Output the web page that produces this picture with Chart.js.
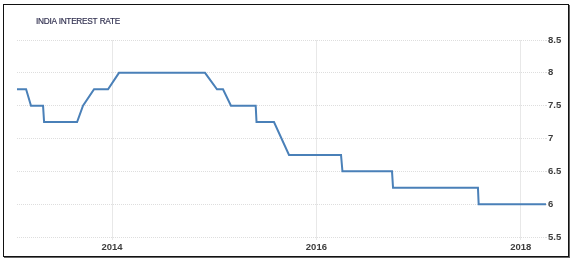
<!DOCTYPE html>
<html>
<head>
<meta charset="utf-8">
<script src="https://cdn.jsdelivr.net/npm/chart.js@4.4.1/dist/chart.umd.min.js"></script>
<style>
  html, body { margin: 0; padding: 0; background: #fff; }
  #wrap { position: relative; width: 574px; height: 262px; overflow: hidden; }
  #frame {
    position: absolute; left: 3px; top: 4px; width: 564px; height: 251px;
    border: 1px solid #111; box-shadow: 1px 1px 0 #666;
  }
  #title {
    position: absolute; left: 36px; top: 16px;
    font: 8.3px "Liberation Sans", Arial, sans-serif; letter-spacing: -0.3px;
    word-spacing: 0.5px;
    color: #2f2e4e; -webkit-text-stroke: 0.15px #2f2e4e;
  }
  canvas { position: absolute; left: 0; top: 0; }
</style>
</head>
<body>
<div id="wrap">
  <canvas id="chart" width="574" height="262"></canvas>
  <div id="frame"></div>
  <div id="title">INDIA INTEREST RATE</div>
</div>
<script>
// decimal years
const years = [
  2013.070, 2013.159, 2013.207, 2013.325, 2013.335, 2013.658, 2013.716, 2013.824,
  2013.961, 2014.068, 2014.910, 2015.027, 2015.086, 2015.164, 2015.406, 2015.414,
  2015.585, 2015.732, 2016.241, 2016.255, 2016.740, 2016.750, 2017.581, 2017.588,
  2018.247
];
const rates = [
  7.75, 7.75, 7.5, 7.5, 7.25, 7.25, 7.5, 7.75,
  7.75, 8, 8, 7.75, 7.75, 7.5, 7.5, 7.25,
  7.25, 6.75, 6.75, 6.5, 6.5, 6.25, 6.25, 6,
  6
];
const xTickLabels = [2014, 2016, 2018];
const yTickLabels = [5.5, 6, 6.5, 7, 7.5, 8, 8.5];

const tickFont = { family: '"Liberation Sans", Arial, sans-serif', size: 9.5, weight: 'bold' };
const tickColor = '#3d3d3d';

new Chart(document.getElementById('chart'), {
  type: 'line',
  data: {
    datasets: [{
      data: years.map((x, i) => ({ x: x, y: rates[i] })),
      borderColor: '#4a80b8',
      borderWidth: 2,
      pointRadius: 0,
      tension: 0,
      fill: false,
    }],
  },
  options: {
    responsive: false,
    animation: false,
    layout: { padding: { left: 17, top: 40, right: 0, bottom: 0 } },
    plugins: {
      legend: { display: false },
      tooltip: { enabled: false },
    },
    scales: {
      x: {
        type: 'linear',
        min: years[0],
        max: years[years.length - 1],
        afterBuildTicks: (s) => { s.ticks = xTickLabels.map(v => ({ value: v })); },
        afterFit: (s) => { s.height = 25; },
        ticks: {
          autoSkip: false, maxRotation: 0, padding: 2,
          font: tickFont, color: tickColor,
          callback: (v) => String(v),
        },
        grid: { color: '#e8e8e8', drawTicks: true, tickLength: 3 },
        border: { display: false },
      },
      y: {
        position: 'right',
        min: 5.5,
        max: 8.5,
        afterBuildTicks: (s) => { s.ticks = yTickLabels.map(v => ({ value: v })); },
        afterFit: (s) => { s.width = 28; },
        ticks: {
          padding: 1,
          font: tickFont, color: tickColor,
          callback: (v) => String(v),
        },
        grid: { color: '#dedede', tickLength: 1 },
        border: { display: false, dash: [1, 1] },
      },
    },
  },
});
</script>
</body>
</html>
